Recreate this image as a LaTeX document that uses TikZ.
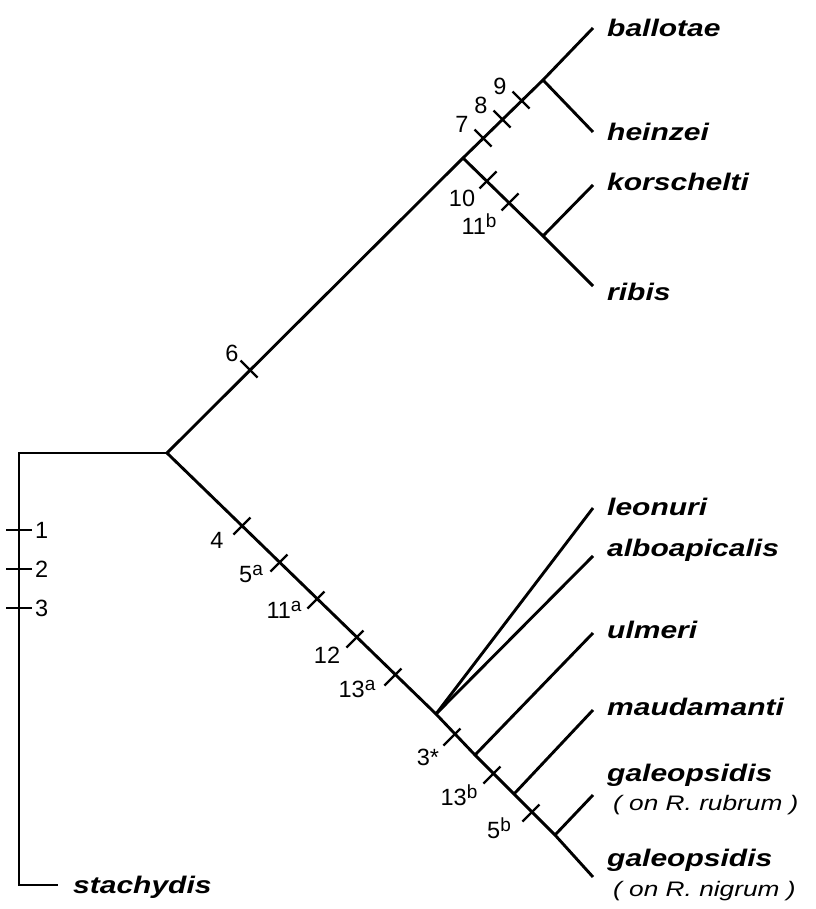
\documentclass[tikz,border=0pt]{standalone}
\usepackage{fontspec}
\setsansfont{Liberation Sans}
\newfontfamily\taxonfont[FakeStretch=1.25]{Liberation Sans}
\usetikzlibrary{calc}
% superscript letter for split character states
\newcommand{\state}[1]{\raisebox{0.55ex}{\fontsize{19}{20}\selectfont #1}}
\begin{document}
\begin{tikzpicture}[x=1pt,y=-1pt,
  branch/.style={line width=2.9pt,line cap=butt,line join=miter},
  tickmark/.style={line width=2.4pt},
  taxon/.style={anchor=west,inner sep=0pt,font=\taxonfont\fontsize{24}{26}\selectfont\bfseries\itshape},
  host/.style={anchor=west,inner sep=0pt,font=\taxonfont\fontsize{21}{24}\selectfont\itshape},
  num/.style={inner sep=0pt,font=\sffamily\fontsize{23.5}{25}\selectfont}]
\useasboundingbox (0,0) rectangle (815,909);

% internal nodes of the tree
\coordinate (base) at (19,453);
\coordinate (outg) at (19,885);
\coordinate (root) at (167,453);
\coordinate (up) at (463,158);
\coordinate (bh) at (543,80);
\coordinate (kr) at (543,236);
\coordinate (la) at (436,714);
\coordinate (um) at (475,755);
\coordinate (mg) at (514,794);
\coordinate (gg) at (555,835);

% tips
\coordinate (tBal) at (593,28);
\coordinate (tHei) at (593,132);
\coordinate (tKor) at (593,185);
\coordinate (tRib) at (593,286);
\coordinate (tLeo) at (593,508);
\coordinate (tAlb) at (593,556);
\coordinate (tUlm) at (593,633);
\coordinate (tMau) at (593,710);
\coordinate (tGr) at (593,795);
\coordinate (tGn) at (593,877);
\coordinate (tSta) at (58,885);

% outgroup
\draw[branch] (root) -- (base) -- (outg) -- (tSta);

% upper clade
\draw[branch] (root) -- (up) -- (bh) -- (tBal);
\draw[branch] (bh) -- (tHei);
\draw[branch] (up) -- (kr) -- (tRib);
\draw[branch] (kr) -- (tKor);

% lower clade
\draw[branch] (root) -- (la) -- (um) -- (mg) -- (gg) -- (tGn);
\draw[branch] (la) -- (tLeo);
\draw[branch] (la) -- (tAlb);
\draw[branch] (um) -- (tUlm);
\draw[branch] (mg) -- (tMau);
\draw[branch] (gg) -- (tGr);

% character changes on the outgroup stem
\foreach \y/\n in {530/1,569/2,608/3}{
  \draw[tickmark] (6,\y) -- (32,\y);
  \node[num,anchor=west] (c\n) at (35,\y) {\n};
}

% character changes on the rising branches (ticks point down-right)
\foreach \x/\y in {249/369,483/138,502/119,521/100}{
  \draw[tickmark] (\x-8.5,\y-8.5) -- (\x+8.5,\y+8.5);
}
% character changes on the falling branches (ticks point up-right)
\foreach \x/\y in {488/180,510/202,242/526,279/563,316/600,355/639,393/677,452/737,492/775,531/813}{
  \draw[tickmark] (\x-8.5,\y+8.5) -- (\x+8.5,\y-8.5);
}

% labels of the character changes
\node[num] (c6) at (232,353) {6};
\node[num] (c7) at (462,124) {7};
\node[num] (c8) at (481,105) {8};
\node[num] (c9) at (500,86) {9};
\node[num] (c10) at (462,198) {10};
\node[num] (c11b) at (479,224) {11\state{b}};
\node[num] (c4) at (217,540) {4};
\node[num] (c5a) at (251,574) {5\state{a}};
\node[num] (c11a) at (284,610) {11\state{a}};
\node[num] (c12) at (327,655) {12};
\node[num] (c13a) at (357,689) {13\state{a}};
\node[num] (c3s) at (428,757) {3*};
\node[num] (c13b) at (459,795) {13\state{b}};
\node[num] (c5b) at (499,828) {5\state{b}};

% taxon names
\node[taxon] (nBal) at (607,28) {ballotae};
\node[taxon] (nHei) at (607,132) {heinzei};
\node[taxon] (nKor) at (607,182) {korschelti};
\node[taxon] (nRib) at (607,292) {ribis};
\node[taxon] (nLeo) at (607,507) {leonuri};
\node[taxon] (nAlb) at (607,550) {alboapicalis};
\node[taxon] (nUlm) at (607,630) {ulmeri};
\node[taxon] (nMau) at (607,707) {maudamanti};
\node[taxon] (nGr) at (607,775) {galeopsidis};
\node[host] (hGr) at (613,805) {( on R. rubrum )};
\node[taxon] (nGn) at (607,860) {galeopsidis};
\node[host] (hGn) at (613,891) {( on R. nigrum )};
\node[taxon] (nSta) at (73,887) {stachydis};
\end{tikzpicture}
\end{document}
